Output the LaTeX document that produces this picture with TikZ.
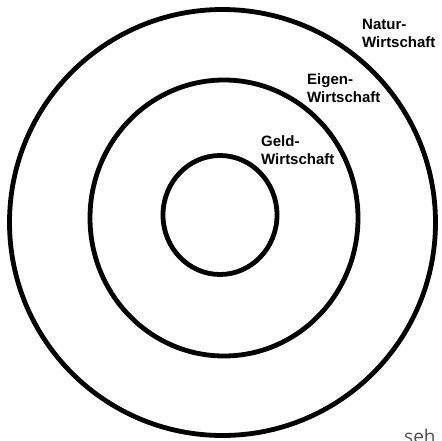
\documentclass[tikz,border=0pt]{standalone}
\usepackage{fontspec}
\setmainfont{Liberation Sans}
\newfontfamily\sehfont{Open Sans}
\definecolor{sehgray}{HTML}{505050}
\tikzset{
  ring/.style={draw=black, line width=4.8pt},
  lbl/.style={anchor=north west, inner sep=0pt, align=left,
    font=\fontsize{15}{18.3}\selectfont\bfseries},
}
\begin{document}
\begin{tikzpicture}[x=1pt,y=-1pt]
  \useasboundingbox (0,0) rectangle (441,441);
  \clip (0,0) rectangle (441,441);
  \fill[white] (0,0) rectangle (441,441);
  \draw[ring] (222.5,222.5) ellipse [x radius=213, y radius=213];
  \draw[ring] (224,218) ellipse [x radius=134, y radius=138];
  \draw[ring] (220,215) ellipse [x radius=57, y radius=59.5];
  \node[lbl] (natur) at (362,19) {Natur-\\Wirtschaft};
  \node[lbl] (eigen) at (307,73.5) {Eigen-\\Wirtschaft};
  \node[lbl] (geld) at (261,135) {Geld-\\Wirtschaft};
  \node[anchor=base west, inner sep=0pt, text=sehgray,
    font=\fontsize{19}{19}\sehfont] (seh) at (404,443) {seh};
\end{tikzpicture}
\end{document}
